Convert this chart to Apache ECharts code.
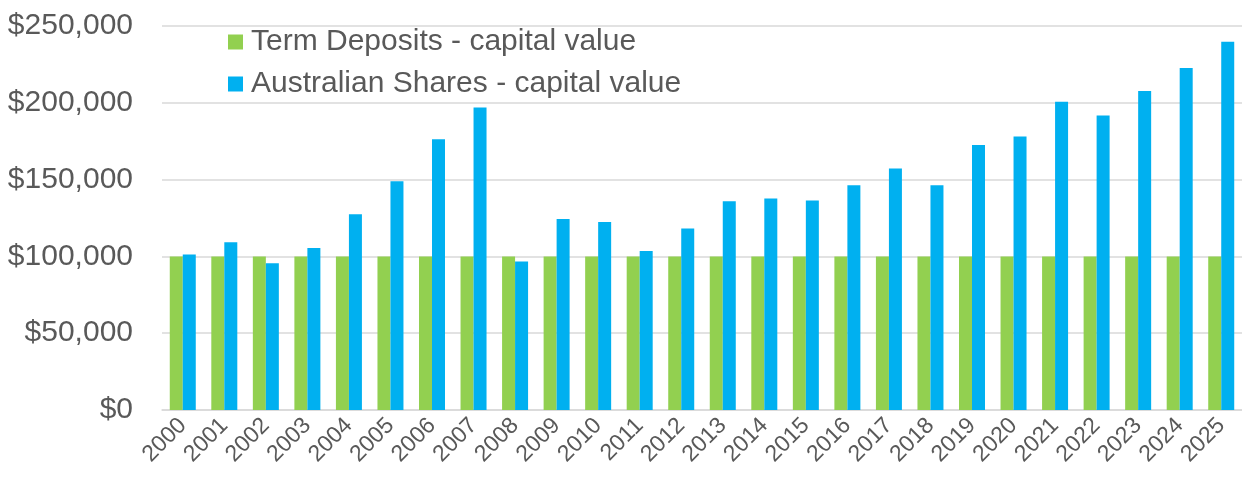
<!DOCTYPE html>
<html>
<head>
<meta charset="utf-8">
<script src="https://cdn.jsdelivr.net/npm/echarts@6/dist/echarts.min.js"></script>
<style>
  html, body { margin: 0; padding: 0; background: #fff; }
  #chart { width: 1242px; height: 479px; }
</style>
</head>
<body>
<div id="chart"></div>
<script>
const years = ['2000', '2001', '2002', '2003', '2004', '2005', '2006', '2007', '2008', '2009',
  '2010', '2011', '2012', '2013', '2014', '2015', '2016', '2017', '2018', '2019',
  '2020', '2021', '2022', '2023', '2024', '2025']

const termDeposits = [100000, 100000, 100000, 100000, 100000, 100000, 100000, 100000, 100000, 100000,
  100000, 100000, 100000, 100000, 100000, 100000, 100000, 100000, 100000, 100000,
  100000, 100000, 100000, 100000, 100000, 100000]

const ausShares = [101200, 109200, 95500, 105500, 127500, 149000, 176200, 197000, 96600, 124400,
  122400, 103500, 118100, 135900, 137700, 136400, 146400, 157200, 146400, 172500,
  178100, 200700, 191800, 207700, 222700, 239800]

const seriesNames = ['Term Deposits - capital value', 'Australian Shares - capital value']

const chart = echarts.init(document.getElementById('chart'))

const option = {
  animation: false,
  textStyle: { fontFamily: 'Liberation Sans, Arial, sans-serif' },
  legend: {
    orient: 'vertical',
    left: 228,
    top: 27,
    padding: 0,
    itemWidth: 15,
    itemHeight: 15,
    itemGap: 12,
    icon: 'rect',
    textStyle: {
      color: '#595959',
      fontSize: 30,
      lineHeight: 30,
      padding: [0, 0, 0, 3]
    },
    data: seriesNames
  },
  grid: {
    left: 162,
    top: 26,
    width: 1090,
    height: 384
  },
  xAxis: {
    type: 'category',
    data: years,
    axisLine: { lineStyle: { color: '#d9d9d9', width: 1.5 } },
    axisTick: { show: false },
    axisLabel: {
      rotate: 45,
      margin: 12,
      color: '#595959',
      fontSize: 23,
      interval: 0
    }
  },
  yAxis: {
    type: 'value',
    min: 0,
    max: 250000,
    interval: 50000,
    axisLine: { show: false },
    axisTick: { show: false },
    splitLine: { lineStyle: { color: '#d9d9d9', width: 1.5 } },
    axisLabel: {
      margin: 29,
      color: '#595959',
      fontSize: 30,
      formatter: v => '$' + v.toLocaleString('en-US')
    }
  },
  series: [
    {
      name: seriesNames[0],
      type: 'bar',
      data: termDeposits,
      barWidth: 13,
      barGap: 0,
      itemStyle: { color: '#92d050' }
    },
    {
      name: seriesNames[1],
      type: 'bar',
      data: ausShares,
      barWidth: 13,
      barGap: 0,
      itemStyle: { color: '#00b0f0' }
    }
  ]
}

chart.setOption(option)
</script>
</body>
</html>
